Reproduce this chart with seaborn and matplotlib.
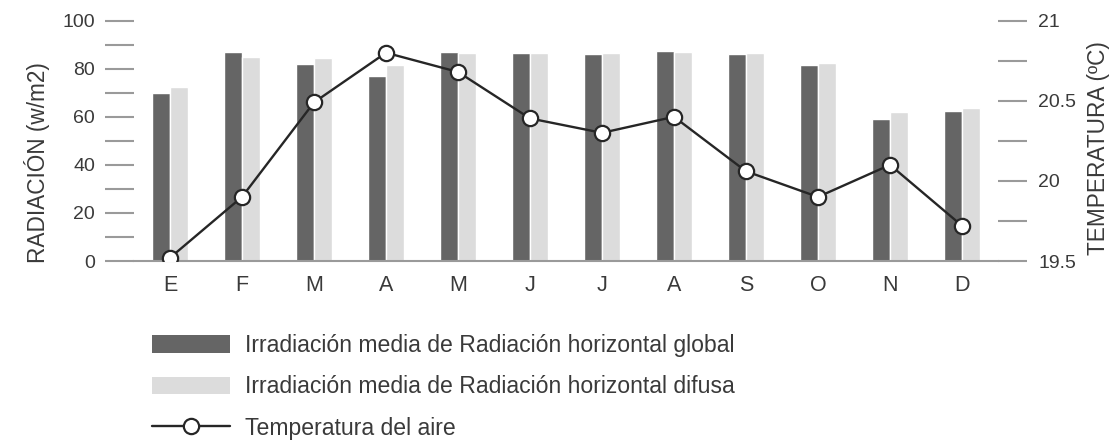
import numpy as np
import pandas as pd
import matplotlib
matplotlib.use('Agg')
import matplotlib.pyplot as plt
from matplotlib.patches import Patch
from matplotlib.lines import Line2D
import seaborn as sns

# Data
meses = ['E', 'F', 'M', 'A', 'M', 'J', 'J', 'A', 'S', 'O', 'N', 'D']
rad_global = [70, 87, 82, 77, 87, 86.5, 86.3, 87.3, 86.3, 81.7, 59, 62.3]
rad_difusa = [72.5, 85, 84.3, 81.5, 86.6, 86.6, 86.7, 87.1, 86.7, 82.4, 62.2, 63.6]
temperatura = [19.52, 19.90, 20.49, 20.80, 20.68, 20.39, 20.30, 20.40, 20.06, 19.90, 20.10, 19.72]

lbl_global = 'Irradiación media de Radiación horizontal global'
lbl_difusa = 'Irradiación media de Radiación horizontal difusa'
lbl_temp = 'Temperatura del aire'

dark = '#656565'
light = '#dcdcdc'
line_col = '#262626'
tick_col = '#9a9a9a'
text_col = '#3a3a3a'

# long format for seaborn (month index so repeated letters stay separate)
df = pd.DataFrame({
    'mes': list(range(12)) * 2,
    'serie': [lbl_global] * 12 + [lbl_difusa] * 12,
    'valor': rad_global + rad_difusa,
})

sns.set_style('white')
plt.rcParams['font.family'] = ['Liberation Sans', 'DejaVu Sans']

fig = plt.figure(figsize=(11.18, 4.44), dpi=100)
ax = fig.add_axes([134 / 1118, 1 - 261 / 444, 864 / 1118, 240.3 / 444])

sns.barplot(data=df, x='mes', y='valor', hue='serie', palette=[dark, light],
            width=0.5, gap=0, saturation=1, legend=False, ax=ax)

ax.set_xlim(-0.5, 11.5)
ax.set_ylim(0, 100)
ax.set_xticks(range(12), meses)
ax.set_yticks(np.arange(0, 101, 20))
ax.set_yticks(np.arange(10, 100, 20), minor=True)
ax.set_xlabel('')
ax.set_ylabel('RADIACIÓN (w/m2)', fontsize=16.3, color=text_col)
ax.yaxis.set_label_coords(-0.097, 0.41)

ax.tick_params(axis='y', which='both', length=21, width=1.5, color=tick_col,
               labelsize=14, labelcolor=text_col, pad=7)
ax.tick_params(axis='x', length=0, labelsize=15.5, labelcolor=text_col, pad=10)
for s in ['top', 'left', 'right']:
    ax.spines[s].set_visible(False)
ax.spines['bottom'].set_color(tick_col)
ax.spines['bottom'].set_linewidth(1.5)

# temperature on the secondary axis
ax2 = ax.twinx()
sns.lineplot(x=np.arange(12), y=temperatura, ax=ax2, color=line_col, linewidth=1.7,
             marker='o', markersize=11, markerfacecolor='white',
             markeredgecolor=line_col, markeredgewidth=1.6)
ax2.set_ylim(19.5, 21)
ax2.set_yticks([19.5, 20, 20.5, 21], ['19.5', '20', '20.5', '21'])
ax2.set_yticks([19.75, 20.25, 20.75], minor=True)
ax2.set_ylabel('TEMPERATURA (ºC)', fontsize=16.3, color=text_col)
ax2.yaxis.set_label_coords(1.103, 0.468)
ax2.tick_params(axis='y', which='both', length=21, width=1.5, color=tick_col,
                labelsize=14, labelcolor=text_col, pad=8)
for s in ['top', 'left', 'right', 'bottom']:
    ax2.spines[s].set_visible(False)

handles = [
    Patch(facecolor=dark, edgecolor='none', label=lbl_global),
    Patch(facecolor=light, edgecolor='none', label=lbl_difusa),
    Line2D([], [], color=line_col, linewidth=1.7, marker='o', markersize=11,
           markerfacecolor='white', markeredgecolor=line_col, markeredgewidth=1.6,
           label=lbl_temp),
]
leg = fig.legend(handles=handles, loc='upper left', bbox_to_anchor=(152 / 1118, 1 - 334 / 444),
                 frameon=False, fontsize=16.6, handlelength=3.4, handleheight=0.8,
                 handletextpad=0.65, labelspacing=0.8, borderpad=0, borderaxespad=0)
for t in leg.get_texts():
    t.set_color(text_col)

fig.savefig('out.png', dpi=100)
